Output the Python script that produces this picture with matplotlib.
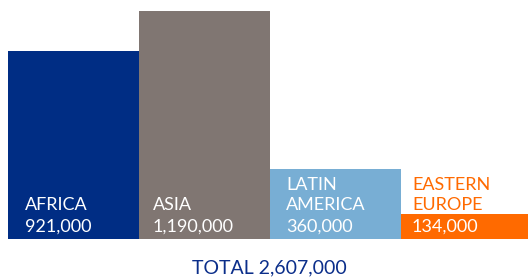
import matplotlib
matplotlib.use("Agg")
import matplotlib.pyplot as plt

# data
regions = ["AFRICA", "ASIA", "LATIN\nAMERICA", "EASTERN\nEUROPE"]
values = [921000, 1190000, 360000, 134000]
# bar heights as drawn in the picture (thousands)
heights = [982, 1190, 364, 130]
total = 2607000
colors = ["#002D84", "#807672", "#78AED4", "#FF6A00"]

plt.rcParams['font.family'] = ['Lato', 'DejaVu Sans']

fig = plt.figure(figsize=(5.28, 2.77), dpi=100)
ax = fig.add_axes([8 / 528, 38.3 / 277, 520 / 528, 238.7 / 277])

xs = range(len(regions))
ax.bar(xs, heights, width=1.0, align='edge', color=colors, linewidth=0)
ax.set_xlim(0, 520 / 131)
ax.set_ylim(0, 1247.5)
ax.axis('off')

# label offsets from bar left edge (px)
offs = [17, 14, 16, 11]
to_x = lambda px: px / 131
for i, (name, v) in enumerate(zip(regions, values)):
    x0 = i + to_x(offs[i])
    vtxt = f"{v:,}"
    name_col = colors[3] if i == 3 else "white"
    ax.text(x0, 1247.5 * (238.7 - 232) / 238.7, vtxt, color="white",
            fontsize=13, ha='left', va='baseline')
    ax.text(x0, 1247.5 * (238.7 - 209.5) / 238.7, name, color=name_col,
            fontsize=13, ha='left', va='baseline', linespacing=1.25)

fig.text(269 / 528, (277 - 273.3) / 277, f"TOTAL {total:,}", color="#0B2E8A",
         fontsize=14, ha='center', va='baseline')

fig.savefig("out.png", dpi=100)
